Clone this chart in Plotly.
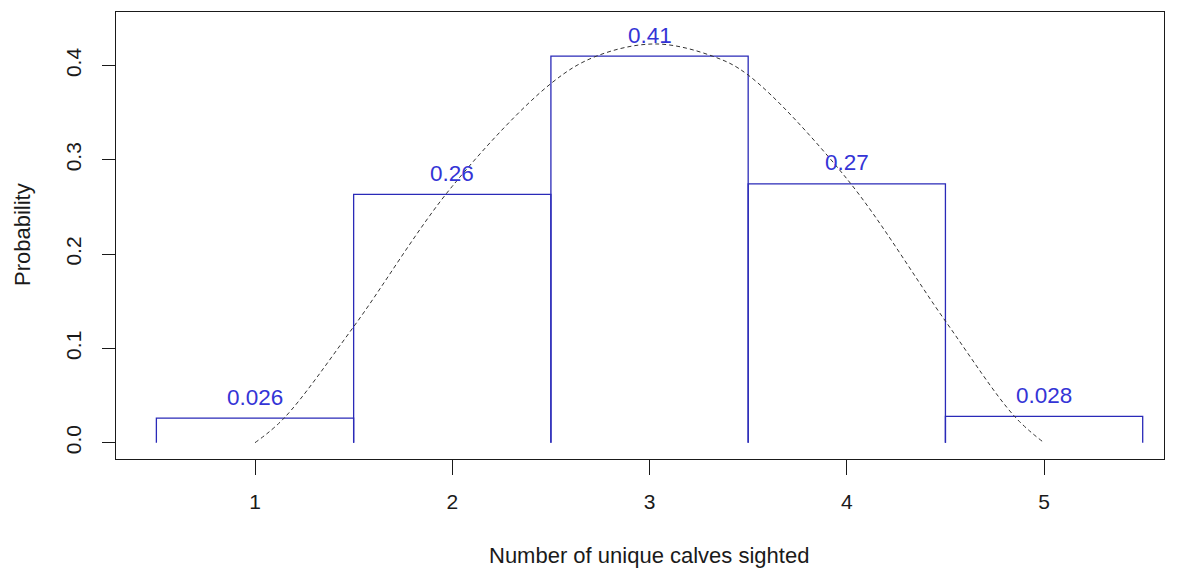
import plotly.graph_objects as go

# Probability of each count of unique calves sighted
counts = [1, 2, 3, 4, 5]
probs = [0.026, 0.2634, 0.41, 0.2745, 0.028]

# Smoothed density curve (points along the dashed line)
curve_x = [1.0, 1.147, 1.5, 2.0, 2.5, 2.73, 3.03, 3.32, 3.5, 4.0, 4.5, 4.85, 5.0]
curve_y = [0.0, 0.026, 0.123, 0.272, 0.381, 0.41, 0.423, 0.41, 0.39, 0.28, 0.129, 0.028, 0.0]

y_ticks = [0.0, 0.1, 0.2, 0.3, 0.4]
y_tick_text = ["0.0", "0.1", "0.2", "0.3", "0.4"]

BAR_COLOR = "#2a2ab8"
LABEL_COLOR = "#3434d6"
TEXT_COLOR = "#1a1a1a"
FONT = "Liberation Sans, Arial, sans-serif"

# Open-bottom rectangles, one per count
bx, by = [], []
for c, p in zip(counts, probs):
    bx += [c - 0.5, c - 0.5, c + 0.5, c + 0.5, None]
    by += [0, p, p, 0, None]

fig = go.Figure()
fig.add_trace(go.Scatter(x=bx, y=by, mode="lines",
                         line=dict(color=BAR_COLOR, width=1.3),
                         hoverinfo="skip", showlegend=False))
fig.add_trace(go.Scatter(x=curve_x, y=curve_y, mode="lines",
                         line=dict(color="#333333", width=1, dash="4px,3px",
                                   shape="spline", smoothing=1.0),
                         hoverinfo="skip", showlegend=False))

for c, p in zip(counts, probs):
    fig.add_annotation(x=c, y=p, text=f"{p:.2g}", showarrow=False,
                       yanchor="middle", yshift=21,
                       font=dict(family=FONT, size=22.5, color=LABEL_COLOR))

fig.add_annotation(x=(649 - 116) / (1164 - 116), y=-(555 - 459) / (459 - 12),
                   xref="paper", yref="paper", text="Number of unique calves sighted",
                   showarrow=False, xanchor="center", yanchor="middle",
                   font=dict(family=FONT, size=22, color=TEXT_COLOR))
fig.add_annotation(x=-(116 - 22) / (1164 - 116), y=(459 - 235) / (459 - 12),
                   xref="paper", yref="paper", text="Probability", textangle=-90,
                   showarrow=False, xanchor="center", yanchor="middle",
                   font=dict(family=FONT, size=22, color=TEXT_COLOR))

fig.update_layout(
    width=1183, height=570,
    margin=dict(l=116, r=19, t=12, b=111),
    paper_bgcolor="white", plot_bgcolor="white",
    font=dict(family=FONT, size=22, color=TEXT_COLOR),
    xaxis=dict(range=[0.2953, 5.608], tickvals=counts, ticktext=[str(c) for c in counts],
               showgrid=False, zeroline=False, showline=True, mirror=True,
               linecolor=TEXT_COLOR, linewidth=1.3, ticks="outside", ticklen=15,
               tickcolor=TEXT_COLOR, tickwidth=1.3, ticklabelstandoff=9,
               tickfont=dict(family=FONT, size=21, color=TEXT_COLOR)),
    yaxis=dict(range=[-0.0173, 0.4569], tickvals=y_ticks, ticktext=y_tick_text,
               showgrid=False, zeroline=False, showline=True, mirror=True,
               linecolor=TEXT_COLOR, linewidth=1.3, ticks="outside", ticklen=13,
               tickcolor=TEXT_COLOR, tickwidth=1.3, tickangle=-90, ticklabelstandoff=12,
               tickfont=dict(family=FONT, size=21, color=TEXT_COLOR)),
)

fig.write_html("out.html")
